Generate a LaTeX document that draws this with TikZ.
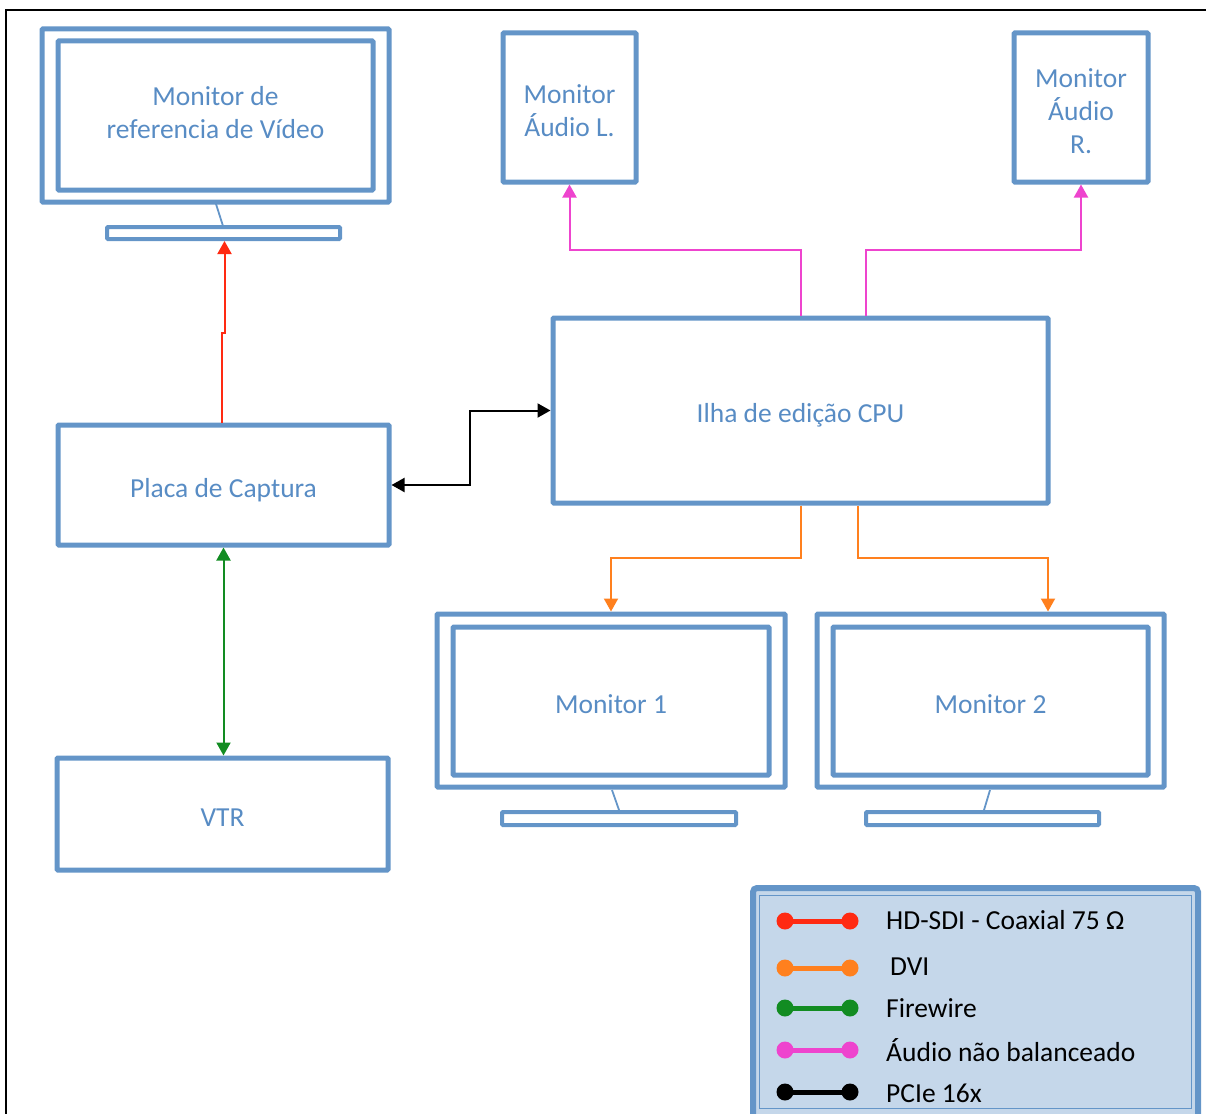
\documentclass[tikz,border=0pt]{standalone}
\usepackage{fontspec}
\setmainfont{Carlito}
\usetikzlibrary{arrows.meta}

\definecolor{boxblue}{RGB}{100,149,200}
\definecolor{txtblue}{RGB}{88,140,196}
\definecolor{legfill}{RGB}{197,215,234}
\definecolor{sdired}{RGB}{255,42,18}
\definecolor{dviorange}{RGB}{255,128,30}
\definecolor{fwgreen}{RGB}{18,140,34}
\definecolor{audmag}{RGB}{238,68,206}

\tikzset{
  box/.style={draw=boxblue, line width=5pt, rounded corners=1pt, inner sep=0pt},
  lbl/.style={inner sep=0pt, text=txtblue, font=\fontsize{27.5}{33}\selectfont, align=center},
  oneline/.style={lbl, text height=31pt, text depth=7pt},
  stand/.style={draw=boxblue, line width=4pt, rounded corners=1pt, inner sep=0pt},
  neck/.style={draw=boxblue, line width=1.8pt},
  wire/.style={line width=2pt, arrows={-Triangle[length=13pt,width=14pt]}},
  biwire/.style={line width=2pt, arrows={Triangle[length=13pt,width=14pt]-Triangle[length=13pt,width=14pt]}},
  legline/.style={line width=5pt},
  legtext/.style={anchor=west, inner sep=0pt, font=\fontsize{27.5}{33}\selectfont},
}

\begin{document}
\begin{tikzpicture}[x=1pt, y=-1pt]
\useasboundingbox (0,0) rectangle (1206,1113);

% page frame
\draw[line width=2.2pt] (6,1125) -- (6,10) -- (1220,10);

% reference video monitor
\node[box, minimum width=347, minimum height=173] (refout) at (215.5,115.5) {};
\node[box, minimum width=315, minimum height=149] (refin) at (215.5,115.5) {};
\node[lbl] (reftext) at (215.5,113) {Monitor de\\referencia de Vídeo};
\node[stand, minimum width=233, minimum height=12] (refstand) at (223.5,233) {};
\draw[neck] (216,204) -- (223,226);

% audio monitors
\node[box, minimum width=133, minimum height=149] (audl) at (569.5,107.5) {};
\node[lbl] (audltext) at (569.5,110.5) {Monitor\\Áudio L.};
\node[box, minimum width=134, minimum height=149] (audr) at (1081,107.5) {};
\node[lbl] (audrtext) at (1081,111) {Monitor\\Áudio\\R.};

% editing workstation
\node[box, minimum width=495, minimum height=185] (cpu) at (800.5,410.5) {};
\node[oneline] (cputext) at (cpu.center) {Ilha de edição CPU};

% capture card and VTR
\node[box, minimum width=331, minimum height=120] (placa) at (223.5,485) {};
\node[oneline] (placatext) at (placa.center) {Placa de Captura};
\node[box, minimum width=331, minimum height=112] (vtr) at (222.5,814) {};
\node[oneline] (vtrtext) at (vtr.center) {VTR};

% monitor 1
\node[box, minimum width=348, minimum height=173] (mon1) at (611,700.5) {};
\node[box, minimum width=316, minimum height=148] (mon1in) at (611,701) {};
\node[oneline] (mon1text) at (mon1in.center) {Monitor 1};
\node[stand, minimum width=234, minimum height=13] (mon1stand) at (619,818.5) {};
\draw[neck] (612,790) -- (619,810);

% monitor 2
\node[box, minimum width=347, minimum height=173] (mon2) at (990.5,700.5) {};
\node[box, minimum width=315, minimum height=148] (mon2in) at (990.5,701) {};
\node[oneline] (mon2text) at (mon2in.center) {Monitor 2};
\node[stand, minimum width=233, minimum height=13] (mon2stand) at (982.5,818.5) {};
\draw[neck] (990,790) -- (984,810);

% connections
\draw[wire, sdired] ([xshift=-1.5pt]placa.north) -- ++(0,-89.5) -| ([xshift=1pt]refstand.south);
\draw[biwire, black] (placa.east) -- ++(78.5,0) |- (cpu.west);
\draw[biwire, fwgreen] (placa.south) -- (placa.south |- vtr.north);
\draw[wire, audmag] (cpu.north) -- ++(0,-66) -| (audl.south);
\draw[wire, audmag] ([xshift=65.5pt]cpu.north) -- ++(0,-66) -| (audr.south);
\draw[wire, dviorange] (cpu.south) -- ++(0,52.5) -| (mon1.north);
\draw[wire, dviorange] ([xshift=57.5pt]cpu.south) -- ++(0,52.5) -| ([xshift=57.5pt]mon2.north);

% legend
\draw[draw=boxblue, fill=legfill, line width=6pt, rounded corners=4pt] (753,888) rectangle (1198,1130);
\draw[draw=boxblue, line width=1.6pt] (759.5,895.5) rectangle (1191.5,1108.5);
\foreach \y/\c in {921/sdired, 968/dviorange, 1008/fwgreen, 1050/audmag, 1092/black} {
  \draw[legline, \c] (785,\y) -- (850,\y);
  \fill[\c] (785,\y) circle (8.5);
  \fill[\c] (850,\y) circle (8.5);
}
\node[legtext] (l1) at (886,920) {HD-SDI - Coaxial 75 Ω};
\node[legtext] (l2) at (890,967) {DVI};
\node[legtext] (l3) at (886,1008) {Firewire};
\node[legtext] (l4) at (886,1050) {Áudio não balanceado};
\node[legtext] (l5) at (886,1093) {PCIe 16x};
\end{tikzpicture}
\end{document}
